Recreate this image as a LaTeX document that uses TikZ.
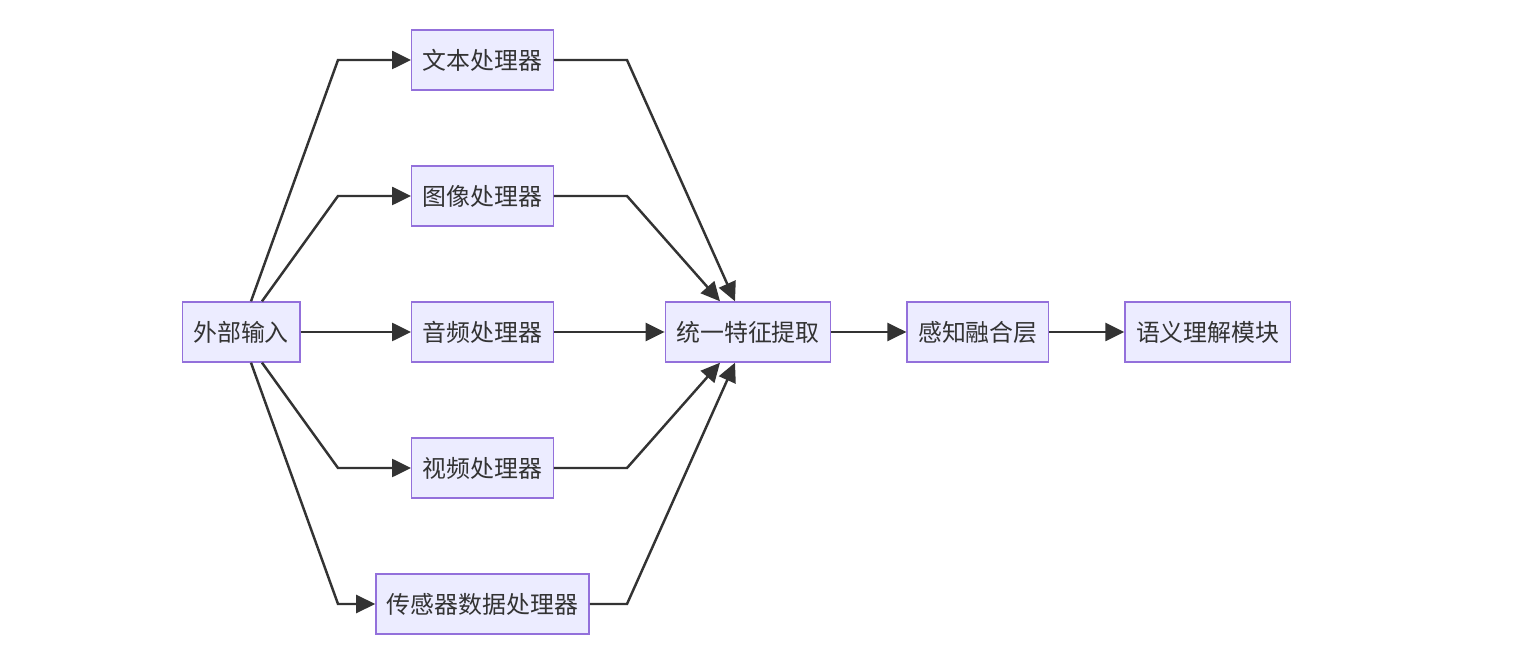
\documentclass[tikz,border=0pt]{standalone}
\usepackage{fontspec}
\setmainfont{Noto Sans CJK SC}
\usetikzlibrary{positioning,arrows.meta}

\definecolor{boxfill}{HTML}{ECECFF}
\definecolor{boxline}{HTML}{9370DB}
\definecolor{linkcol}{HTML}{333333}

\begin{document}
\begin{tikzpicture}[%
        proc/.style={%
          rectangle,
          draw=boxline,
          fill=boxfill,
          line width=0.8pt,
          minimum height=1.2cm,
          inner xsep=0.22cm,
          text=linkcol,
          font=\fontsize{13.6}{16}\selectfont
        },
        link/.style={%
          draw=linkcol,
          line width=1.4pt,
          -{Triangle[length=0.38cm,width=0.36cm]}
        }
      ]
      \useasboundingbox (0,0) rectangle (30.66,-13.06);
      % nodes
      \node[proc] (in) at (4.82,-6.64) {外部输入};
      \node[proc] (txt) at (9.65,-1.2) {文本处理器};
      \node[proc] (img) at (9.65,-3.92) {图像处理器};
      \node[proc] (aud) at (9.65,-6.64) {音频处理器};
      \node[proc] (vid) at (9.65,-9.36) {视频处理器};
      \node[proc] (sen) at (9.65,-12.08) {传感器数据处理器};
      \node[proc] (uni) at (14.96,-6.64) {统一特征提取};
      \node[proc, right=1.5cm of uni] (fus) {感知融合层};
      \node[proc, right=1.5cm of fus] (sem) {语义理解模块};
      % bend columns
      \coordinate (lb) at (6.76,0);
      \coordinate (rb) at (12.54,0);
      % input to processors
      \draw[link] ([xshift=0.2cm]in.north) -- (lb |- txt) -- (txt.west);
      \draw[link] ([xshift=0.42cm]in.north) -- (lb |- img) -- (img.west);
      \draw[link] (in) -- (aud);
      \draw[link] ([xshift=0.42cm]in.south) -- (lb |- vid) -- (vid.west);
      \draw[link] ([xshift=0.2cm]in.south) -- (lb |- sen) -- (sen.west);
      % processors to feature extraction
      \draw[link] (txt.east) -- (rb |- txt) -- ([xshift=-0.26cm]uni.north);
      \draw[link] (img.east) -- (rb |- img) -- ([xshift=-0.56cm]uni.north);
      \draw[link] (aud) -- (uni);
      \draw[link] (vid.east) -- (rb |- vid) -- ([xshift=-0.56cm]uni.south);
      \draw[link] (sen.east) -- (rb |- sen) -- ([xshift=-0.26cm]uni.south);
      % chain
      \draw[link] (uni) -- (fus);
      \draw[link] (fus) -- (sem);
    \end{tikzpicture}
\end{document}
